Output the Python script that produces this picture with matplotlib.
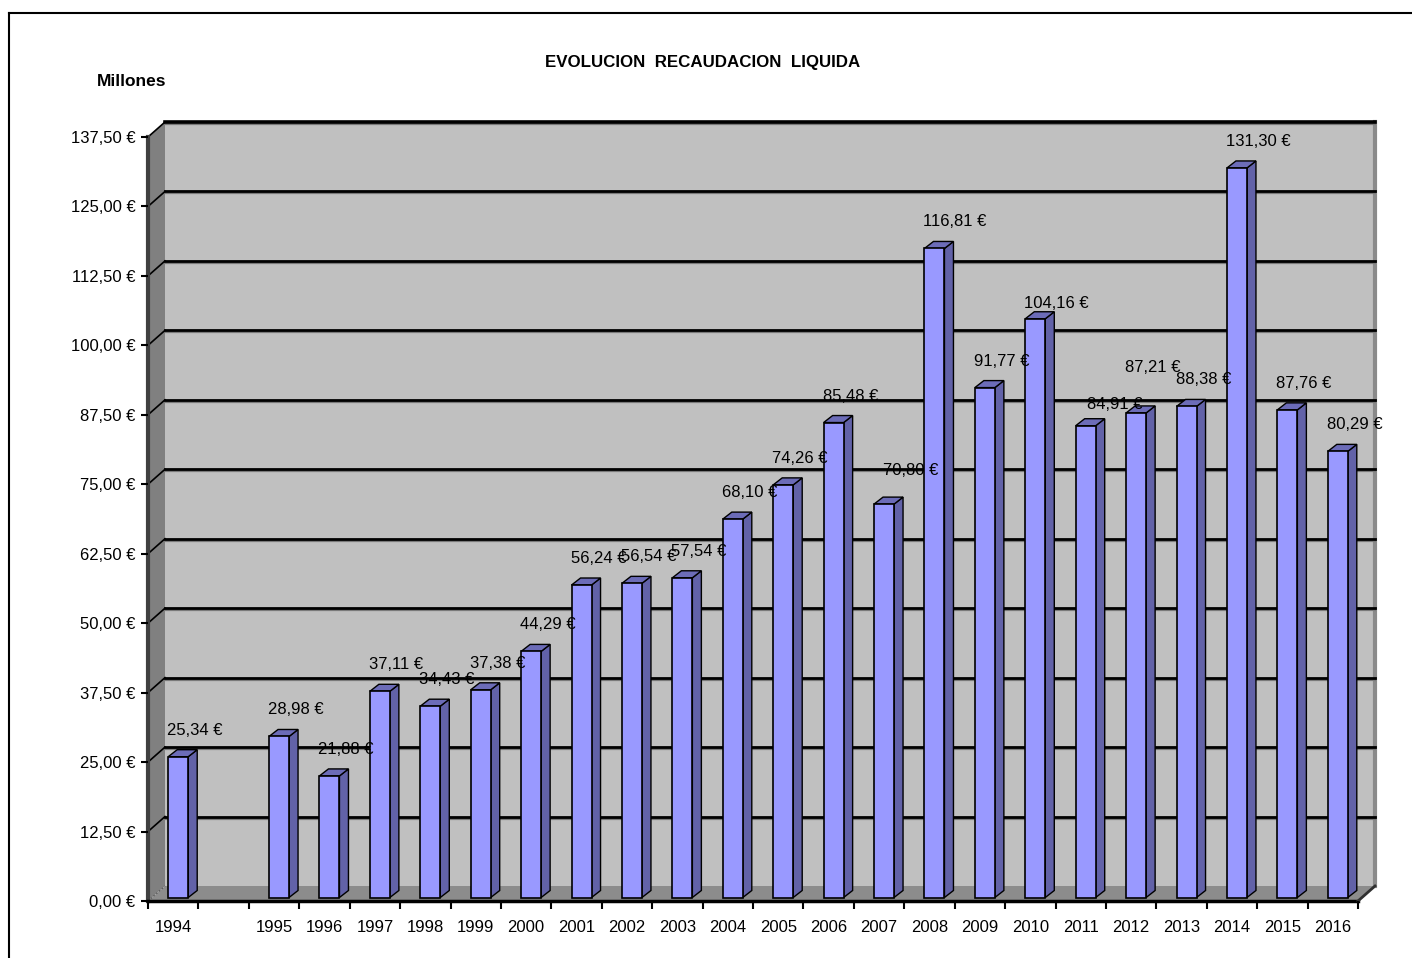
import numpy as np
import matplotlib.pyplot as plt
from matplotlib.patches import Polygon, Rectangle
from matplotlib.lines import Line2D
from matplotlib.ticker import FuncFormatter

plt.rcParams['font.family'] = ['Liberation Sans', 'DejaVu Sans']

# data (the 2nd category is an empty slot, as in the original sheet)
years = ['1994', '', '1995', '1996', '1997', '1998', '1999', '2000', '2001', '2002',
         '2003', '2004', '2005', '2006', '2007', '2008', '2009', '2010', '2011',
         '2012', '2013', '2014', '2015', '2016']
values = [25.34, None, 28.98, 21.88, 37.11, 34.43, 37.38, 44.29, 56.24, 56.54,
          57.54, 68.10, 74.26, 85.48, 70.80, 116.81, 91.77, 104.16, 84.91,
          87.21, 88.38, 131.30, 87.76, 80.29]
y_ticks = np.arange(0, 137.51, 12.5)

# label nudges in pixels (excel moved a few labels to avoid overlaps)
label_nudge = {'2007': (10, 7), '2010': (0, -11), '2011': (12, -5), '2012': (0, 19)}

W, H = 1412, 958
fig = plt.figure(figsize=(W / 100, H / 100), dpi=100)
fig.patch.set_facecolor('white')

# front plane of the 3d box
x0, x1, y0, y1 = 148, 1358, 901, 137
ax = fig.add_axes([x0 / W, (H - y0) / H, (x1 - x0) / W, (y0 - y1) / H])
n = len(years)
ymax = 137.5
ax.set_xlim(-0.5, n - 0.5)
ax.set_ylim(0, ymax)
ax.set_facecolor('none')
for s in ax.spines.values():
    s.set_visible(False)

px_x = (x1 - x0) / n
px_y = (y0 - y1) / ymax

# depth offsets in data units
wdx, wdy = 17 / px_x, 15 / px_y          # walls
bdx0, bdy0 = 5 / px_x, 3.5 / px_y        # bar front face
bdx, bdy = 9 / px_x, 7 / px_y            # bar depth
bw = 20 / px_x

L, R = -0.5, n - 0.5

# back wall
ax.add_patch(Rectangle((L + wdx, wdy), n, ymax, fc='#C0C0C0', ec='none', zorder=0, clip_on=False))
ax.plot([R + wdx, R + wdx], [wdy, ymax + wdy], color='#8a8a8a', lw=3, zorder=0.5, clip_on=False)
# left wall
ax.add_patch(Polygon([(L, 0), (L, ymax), (L + wdx, ymax + wdy), (L + wdx, wdy)],
                     closed=True, fc='#808080', ec='none', zorder=0.6, clip_on=False))
# floor
ax.add_patch(Polygon([(L, 0), (R, 0), (R + wdx, wdy), (L + wdx, wdy)],
                     closed=True, fc='#8C8C8C', ec='none', zorder=0.6, clip_on=False))
ax.plot([L, L + wdx], [0, wdy], color='#5a5a5a', lw=1, ls=':', zorder=0.7, clip_on=False)

# grid lines on back wall and left wall
for v in y_ticks[1:]:
    lw = 2.6 if v == ymax else 2
    ax.plot([L + wdx, R + wdx], [v + wdy - 2 / px_y] * 2, color='#7a7a7a', lw=1.6, zorder=0.8, clip_on=False)
    ax.plot([L + wdx, R + wdx], [v + wdy, v + wdy], color='black', lw=lw, zorder=0.9, clip_on=False)
    ax.plot([L, L + wdx], [v, v + wdy], color='black', lw=1.2, zorder=0.9, clip_on=False)

# axis lines
ax.plot([L, L], [0, ymax], color='#404040', lw=3, zorder=1, clip_on=False)
ax.plot([L, R], [0, 0], color='black', lw=2.5, zorder=1, clip_on=False)
ax.plot([R, R + wdx], [0, wdy], color='#303030', lw=2, zorder=1, clip_on=False)

# bars
x = np.arange(n)
for i, v in enumerate(values):
    if v is None:
        continue
    xl = x[i] - bw / 2 + bdx0
    xr = xl + bw
    b = bdy0
    ax.bar(xl, v, width=bw, bottom=b, align='edge', color='#9999FF',
           edgecolor='black', linewidth=1.2, zorder=3)
    ax.add_patch(Polygon([(xr, b), (xr, b + v), (xr + bdx, b + v + bdy), (xr + bdx, b + bdy)],
                         closed=True, fc='#6262A8', ec='black', lw=1, zorder=2.9, clip_on=False))
    ax.add_patch(Polygon([(xl, b + v), (xr, b + v), (xr + bdx, b + v + bdy), (xl + bdx, b + v + bdy)],
                         closed=True, fc='#6C6CB8', ec='black', lw=1, zorder=2.9, clip_on=False))
    nx, ny = label_nudge.get(years[i], (0, 0))
    ax.text(xl - 1 / px_x + nx / px_x, v + (30 + ny) / px_y, f"{v:.2f}".replace('.', ',') + ' €',
            ha='left', va='center', fontsize=12, zorder=5)

# ticks
fmt = FuncFormatter(lambda v, p: f"{v:.2f}".replace('.', ',') + ' €')
ax.set_yticks(y_ticks)
ax.yaxis.set_major_formatter(fmt)
ax.tick_params(axis='y', length=5, width=1.5, pad=4, labelsize=12, direction='out')
ax.set_xticks(x)
ax.set_xticklabels(years)
ax.set_xticks(np.arange(n + 1) - 0.5, minor=True)
ax.tick_params(axis='x', which='major', length=0, pad=14, labelsize=12)
ax.tick_params(axis='x', which='minor', length=6, width=1.5, direction='out')

# titles
fig.text(703 / W, 1 - 62 / H, 'EVOLUCION  RECAUDACION  LIQUIDA', ha='center', va='center',
         fontsize=12.2, fontweight='bold')
fig.text(132 / W, 1 - 82 / H, 'Millones', ha='center', va='center', fontsize=12.5, fontweight='bold')

# chart area frame (runs off the right and bottom edges)
fig.add_artist(Line2D([9 / W, 1.0], [1 - 13 / H, 1 - 13 / H], color='black', lw=1.5))
fig.add_artist(Line2D([9 / W, 9 / W], [0, 1 - 13 / H], color='black', lw=1.5))

fig.savefig('out.png', dpi=100)
